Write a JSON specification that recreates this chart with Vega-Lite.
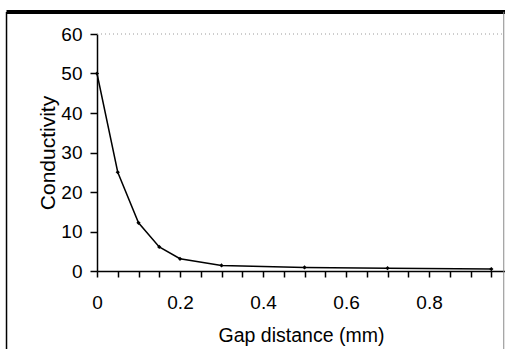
{
  "$schema": "https://vega.github.io/schema/vega-lite/v6.json",
  "width": 408,
  "height": 237,
  "autosize": {"type": "none"},
  "padding": {"left": 97, "top": 34, "right": 0, "bottom": 78},
  "background": "white",
  "config": {
    "view": {"stroke": null},
    "axis": {
      "labelFont": "Liberation Sans",
      "titleFont": "Liberation Sans",
      "labelFontSize": 19,
      "titleFontSize": 19.5,
      "titleFontWeight": "normal",
      "labelColor": "black",
      "titleColor": "black",
      "domainColor": "black",
      "tickColor": "black",
      "domainWidth": 1.5,
      "tickWidth": 1.5,
      "grid": false,
      "labelOverlap": false
    }
  },
  "datasets": {
    "curve": [
      {"gap": 0, "conductivity": 50},
      {"gap": 0.05, "conductivity": 25},
      {"gap": 0.1, "conductivity": 12.2},
      {"gap": 0.15, "conductivity": 6.1},
      {"gap": 0.2, "conductivity": 3.1},
      {"gap": 0.3, "conductivity": 1.4},
      {"gap": 0.5, "conductivity": 0.9},
      {"gap": 0.7, "conductivity": 0.7},
      {"gap": 0.95, "conductivity": 0.5}
    ]
  },
  "encoding": {
    "x": {
      "type": "quantitative",
      "scale": {"domain": [0, 0.983], "nice": false, "zero": false},
      "axis": {
        "title": "Gap distance (mm)",
        "values": [0, 0.05, 0.1, 0.15, 0.2, 0.25, 0.3, 0.35, 0.4, 0.45, 0.5, 0.55, 0.6, 0.65, 0.7, 0.75, 0.8, 0.85, 0.9, 0.95],
        "labelExpr": "abs(datum.value*5 - round(datum.value*5)) < 0.001 ? format(datum.value, '~g') : ''",
        "tickSize": 6,
        "labelPadding": 16,
        "titlePadding": 14,
        "labelFlush": false
      }
    },
    "y": {
      "type": "quantitative",
      "scale": {"domain": [0, 60], "nice": false},
      "axis": {
        "title": "Conductivity",
        "titleFontSize": 21,
        "values": [0, 10, 20, 30, 40, 50, 60],
        "tickSize": 7,
        "labelPadding": 8,
        "titlePadding": 2,
        "labelFlush": false
      }
    }
  },
  "layer": [
    {
      "data": {"name": "curve"},
      "mark": {"type": "line", "color": "black", "strokeWidth": 1.5},
      "encoding": {
        "x": {"field": "gap"},
        "y": {"field": "conductivity"}
      }
    },
    {
      "data": {"name": "curve"},
      "mark": {"type": "point", "shape": "diamond", "filled": true, "color": "black", "size": 18, "opacity": 1},
      "encoding": {
        "x": {"field": "gap"},
        "y": {"field": "conductivity"}
      }
    },
    {
      "data": {"values": [{}]},
      "mark": {"type": "rule", "color": "#9a9a9a", "strokeWidth": 1, "strokeDash": [1, 3]},
      "encoding": {
        "x": {"datum": 0},
        "x2": {"datum": 0.983},
        "y": {"datum": 60}
      }
    },
    {
      "data": {"values": [{}]},
      "mark": {"type": "rule", "color": "black", "strokeWidth": 4, "clip": false},
      "encoding": {
        "x": {"datum": -0.218},
        "x2": {"datum": 0.983},
        "y": {"datum": 65.6}
      }
    },
    {
      "data": {"values": [{}]},
      "mark": {"type": "rule", "color": "black", "strokeWidth": 1.5, "clip": false},
      "encoding": {
        "x": {"datum": -0.218},
        "y": {"datum": 65.6},
        "y2": {"datum": -30}
      }
    },
    {
      "data": {"values": [{}]},
      "mark": {"type": "rule", "color": "#8a8a8a", "strokeWidth": 1, "clip": false},
      "encoding": {
        "x": {"datum": 0.98},
        "y": {"datum": 65.6},
        "y2": {"datum": -30}
      }
    }
  ]
}
